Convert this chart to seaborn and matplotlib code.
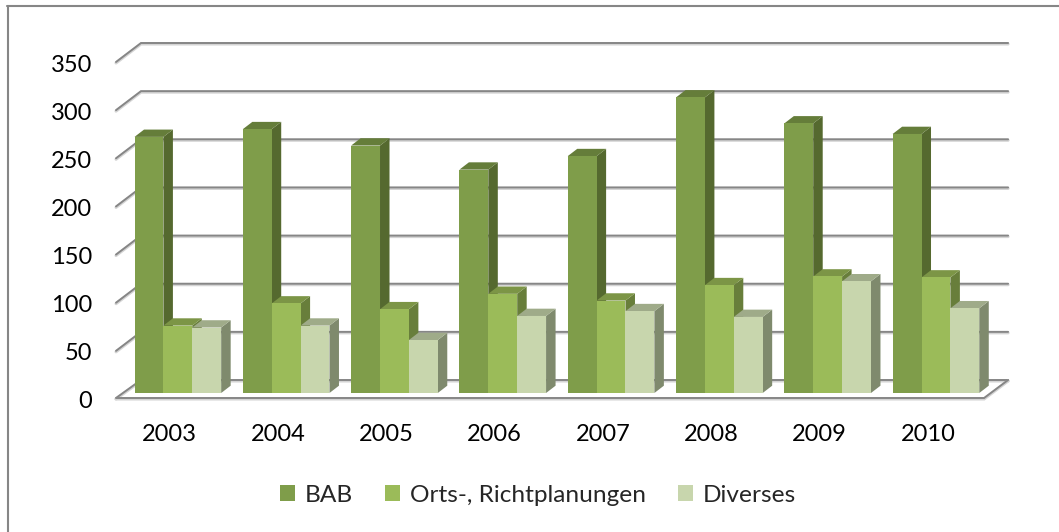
import pandas as pd
import seaborn as sns
import matplotlib
matplotlib.use('Agg')
import matplotlib.pyplot as plt
from matplotlib.lines import Line2D
from matplotlib.patches import Polygon
from matplotlib.transforms import ScaledTranslation

years = ['2003', '2004', '2005', '2006', '2007', '2008', '2009', '2010']
bab = [266, 274, 257, 232, 246, 307, 280, 269]
orts = [70, 93, 87, 103, 96, 112, 121, 120]
diverses = [68, 70, 55, 80, 85, 79, 116, 88]
y_ticks = [0, 50, 100, 150, 200, 250, 300, 350]
series_names = ['BAB', 'Orts-, Richtplanungen', 'Diverses']

front_colors = ['#7F9D4A', '#9BBB59', '#C8D6AD']
top_colors = ['#657D3A', '#7C9546', '#9FAB89']
side_colors = ['#55692F', '#687E3B', '#7F8A6D']
grid_color = '#868686'

W, H = 1059, 532
DPI = 100

sns.set_theme(style='white')
plt.rcParams['font.family'] = ['Lato', 'DejaVu Sans']

df = pd.DataFrame({'Jahr': years * 3,
                   'Wert': bab + orts + diverses,
                   'Typ': [n for n in series_names for _ in years]})

fig = plt.figure(figsize=(W / DPI, H / DPI), dpi=DPI)
# bar base sits at y=393px, 350 units are 337px high
ax = fig.add_axes([123.7 / W, (H - 393) / H, 866.4 / W, 337 / H])
sns.barplot(data=df, x='Jahr', y='Wert', hue='Typ', palette=front_colors,
            width=0.8, saturation=1, ax=ax, linewidth=0)
ax.set_xlim(-0.5, 7.5)
ax.set_ylim(0, 350)
ax.set_xlabel('')
ax.set_ylabel('')
sns.despine(ax=ax, left=True, bottom=True)
ax.patch.set_alpha(0)

x0, _ = ax.transData.transform((-0.5, 0))
x1, _ = ax.transData.transform((7.5, 0))

# grid: wing from front to back wall, then along the back wall
for v in y_ticks:
    _, y0 = ax.transData.transform((-0.5, v))
    front_dy = 5 if v == 0 else 6
    for color, lw, extra in [('#D4D4D4', 2.2, 1), (grid_color, 1.4, 0)]:
        pts = [(x0 - 7.7, y0 - front_dy - extra), (x0 + 17.3, y0 + 13 - extra),
               (x1 + 18, y0 + 13 - extra)]
        ax.add_line(Line2D([p[0] / W for p in pts], [p[1] / H for p in pts],
                           transform=fig.transFigure, color=color, lw=lw, zorder=1,
                           clip_on=False, solid_joinstyle='miter'))

# floor: front edge and right hand edge
_, y0 = ax.transData.transform((-0.5, 0))
for color, lw, extra in [('#D4D4D4', 2.2, 1), (grid_color, 1.4, 0)]:
    ax.add_line(Line2D([(x0 - 7.7) / W, (x1 - 6) / W, (x1 + 18) / W],
                       [(y0 - 5 - extra) / H, (y0 - 5 - extra) / H, (y0 + 13 - extra) / H],
                       transform=fig.transFigure, color=color, lw=lw, zorder=1.5,
                       clip_on=False, solid_joinstyle='miter'))

# pseudo 3d: depth faces are built from the bars seaborn drew
dx_data = 9.5 / (866.4 / 8)
dy_data = 7.3 / (337 / 350)
for i, cont in enumerate(ax.containers):
    for bar in cont:
        bar.set_zorder(5 + i)
        bar.set_edgecolor('none')
        l, r = bar.get_x(), bar.get_x() + bar.get_width()
        h = bar.get_height()
        ax.add_patch(Polygon([(r, 0), (r + dx_data, dy_data), (r + dx_data, h + dy_data), (r, h)],
                             closed=True, fc=side_colors[i], ec='none', zorder=4.8 + i,
                             clip_on=False))
        ax.add_patch(Polygon([(l, h), (l + dx_data, h + dy_data), (r + dx_data, h + dy_data), (r, h)],
                             closed=True, fc=top_colors[i], ec='none', zorder=4.8 + i,
                             clip_on=False))

ax.set_yticks(y_ticks)
ax.set_yticklabels([str(v) for v in y_ticks])
ax.tick_params(axis='y', length=0, pad=22.8, labelsize=17, colors='black')
ax.tick_params(axis='x', length=0, pad=22.5, labelsize=17, colors='black')
for lab in ax.get_xticklabels():
    lab.set_transform(lab.get_transform() + ScaledTranslation(-8 / DPI, 0, fig.dpi_scale_trans))
for lab in ax.get_yticklabels():
    lab.set_transform(lab.get_transform() + ScaledTranslation(0, -7 / DPI, fig.dpi_scale_trans))

sns.move_legend(ax, 'center', bbox_to_anchor=(538 / W, (H - 495) / H),
                bbox_transform=fig.transFigure, ncol=3, frameon=False, title=None,
                fontsize=17.6, handlelength=0.62, handleheight=0.62,
                handletextpad=0.41, columnspacing=1.3)

# chart frame: only top and left edges are in the crop
fig.add_artist(Line2D([7.5 / W, 7.5 / W], [0, (H - 6) / H], color=grid_color, lw=1.5))
fig.add_artist(Line2D([7 / W, 1], [(H - 6) / H, (H - 6) / H], color=grid_color, lw=1.5))

fig.savefig('out.png', dpi=DPI)
